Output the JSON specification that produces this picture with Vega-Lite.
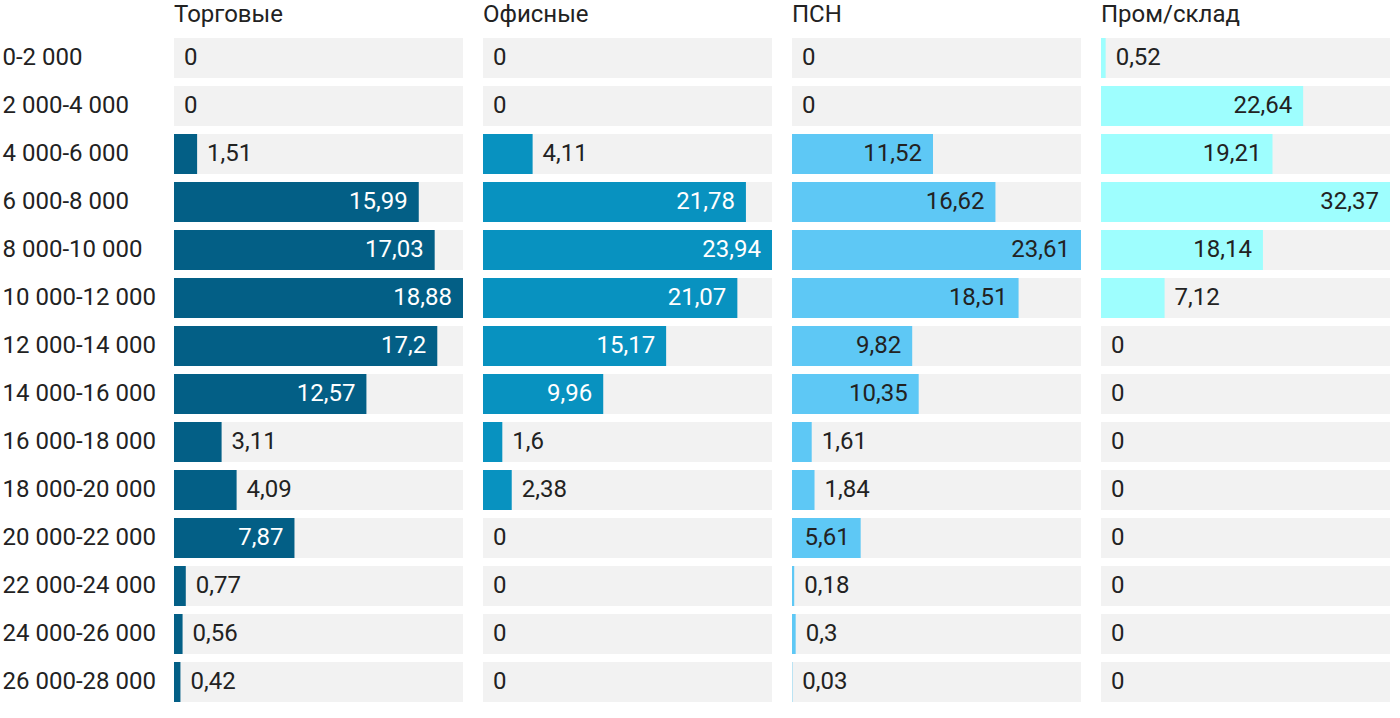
{
  "$schema": "https://vega.github.io/schema/vega-lite/v6.json",
  "padding": {"left": 2, "top": 3, "right": 0, "bottom": 0},
  "background": "white",
  "config": {
    "view": {"stroke": null},
    "font": "Roboto",
    "locale": {"number": {"decimal": ",", "thousands": " ", "grouping": [3], "currency": ["", ""]}}
  },
  "data": {"values": [
    {"r": "0-2 000", "cat": "Торговые", "v": 0},
    {"r": "2 000-4 000", "cat": "Торговые", "v": 0},
    {"r": "4 000-6 000", "cat": "Торговые", "v": 1.51},
    {"r": "6 000-8 000", "cat": "Торговые", "v": 15.99},
    {"r": "8 000-10 000", "cat": "Торговые", "v": 17.03},
    {"r": "10 000-12 000", "cat": "Торговые", "v": 18.88},
    {"r": "12 000-14 000", "cat": "Торговые", "v": 17.2},
    {"r": "14 000-16 000", "cat": "Торговые", "v": 12.57},
    {"r": "16 000-18 000", "cat": "Торговые", "v": 3.11},
    {"r": "18 000-20 000", "cat": "Торговые", "v": 4.09},
    {"r": "20 000-22 000", "cat": "Торговые", "v": 7.87},
    {"r": "22 000-24 000", "cat": "Торговые", "v": 0.77},
    {"r": "24 000-26 000", "cat": "Торговые", "v": 0.56},
    {"r": "26 000-28 000", "cat": "Торговые", "v": 0.42},
    {"r": "0-2 000", "cat": "Офисные", "v": 0},
    {"r": "2 000-4 000", "cat": "Офисные", "v": 0},
    {"r": "4 000-6 000", "cat": "Офисные", "v": 4.11},
    {"r": "6 000-8 000", "cat": "Офисные", "v": 21.78},
    {"r": "8 000-10 000", "cat": "Офисные", "v": 23.94},
    {"r": "10 000-12 000", "cat": "Офисные", "v": 21.07},
    {"r": "12 000-14 000", "cat": "Офисные", "v": 15.17},
    {"r": "14 000-16 000", "cat": "Офисные", "v": 9.96},
    {"r": "16 000-18 000", "cat": "Офисные", "v": 1.6},
    {"r": "18 000-20 000", "cat": "Офисные", "v": 2.38},
    {"r": "20 000-22 000", "cat": "Офисные", "v": 0},
    {"r": "22 000-24 000", "cat": "Офисные", "v": 0},
    {"r": "24 000-26 000", "cat": "Офисные", "v": 0},
    {"r": "26 000-28 000", "cat": "Офисные", "v": 0},
    {"r": "0-2 000", "cat": "ПСН", "v": 0},
    {"r": "2 000-4 000", "cat": "ПСН", "v": 0},
    {"r": "4 000-6 000", "cat": "ПСН", "v": 11.52},
    {"r": "6 000-8 000", "cat": "ПСН", "v": 16.62},
    {"r": "8 000-10 000", "cat": "ПСН", "v": 23.61},
    {"r": "10 000-12 000", "cat": "ПСН", "v": 18.51},
    {"r": "12 000-14 000", "cat": "ПСН", "v": 9.82},
    {"r": "14 000-16 000", "cat": "ПСН", "v": 10.35},
    {"r": "16 000-18 000", "cat": "ПСН", "v": 1.61},
    {"r": "18 000-20 000", "cat": "ПСН", "v": 1.84},
    {"r": "20 000-22 000", "cat": "ПСН", "v": 5.61},
    {"r": "22 000-24 000", "cat": "ПСН", "v": 0.18},
    {"r": "24 000-26 000", "cat": "ПСН", "v": 0.3},
    {"r": "26 000-28 000", "cat": "ПСН", "v": 0.03},
    {"r": "0-2 000", "cat": "Пром/склад", "v": 0.52},
    {"r": "2 000-4 000", "cat": "Пром/склад", "v": 22.64},
    {"r": "4 000-6 000", "cat": "Пром/склад", "v": 19.21},
    {"r": "6 000-8 000", "cat": "Пром/склад", "v": 32.37},
    {"r": "8 000-10 000", "cat": "Пром/склад", "v": 18.14},
    {"r": "10 000-12 000", "cat": "Пром/склад", "v": 7.12},
    {"r": "12 000-14 000", "cat": "Пром/склад", "v": 0},
    {"r": "14 000-16 000", "cat": "Пром/склад", "v": 0},
    {"r": "16 000-18 000", "cat": "Пром/склад", "v": 0},
    {"r": "18 000-20 000", "cat": "Пром/склад", "v": 0},
    {"r": "20 000-22 000", "cat": "Пром/склад", "v": 0},
    {"r": "22 000-24 000", "cat": "Пром/склад", "v": 0},
    {"r": "24 000-26 000", "cat": "Пром/склад", "v": 0},
    {"r": "26 000-28 000", "cat": "Пром/склад", "v": 0}
  ]},
  "transform": [
    {"joinaggregate": [{"op": "max", "field": "v", "as": "vmax"}], "groupby": ["cat"]}
  ],
  "facet": {
    "column": {
      "field": "cat",
      "type": "nominal",
      "sort": ["Торговые", "Офисные", "ПСН", "Пром/склад"],
      "title": null,
      "header": {"labelAnchor": "start", "labelFont": "Roboto", "labelFontSize": 24, "labelColor": "#222222", "labelPadding": 7}
    }
  },
  "spacing": 20,
  "resolve": {"scale": {"x": "independent"}},
  "spec": {
    "width": 289,
    "height": 672,
    "encoding": {
      "y": {
        "field": "r",
        "type": "nominal",
        "sort": null,
        "scale": {"paddingInner": 0.1667, "paddingOuter": 0.0833},
        "axis": {"title": null, "domain": false, "ticks": false, "tickSize": 0, "labelAlign": "left", "labelPadding": 172, "labelFont": "Roboto", "labelFontSize": 24, "labelColor": "#222222"}
      }
    },
    "layer": [
      {
        "mark": {"type": "bar", "color": "#f2f2f2"},
        "encoding": {
          "x": {"field": "vmax", "type": "quantitative", "axis": null, "scale": {"nice": false, "zero": true}}
        }
      },
      {
        "mark": {"type": "bar"},
        "encoding": {
          "x": {"field": "v", "type": "quantitative"},
          "color": {
            "field": "cat",
            "type": "nominal",
            "legend": null,
            "scale": {"domain": ["Торговые", "Офисные", "ПСН", "Пром/склад"], "range": ["#035f86", "#0892c0", "#5ec8f5", "#9efefe"]}
          }
        }
      },
      {
        "transform": [{"filter": "datum.v / datum.vmax > 0.23"}],
        "mark": {"type": "text", "align": "right", "baseline": "middle", "dx": -11, "font": "Roboto", "fontSize": 24},
        "encoding": {
          "x": {"field": "v", "type": "quantitative"},
          "text": {"field": "v", "type": "quantitative", "format": ".2~f"},
          "color": {"condition": {"test": "datum.cat === 'Торговые' || datum.cat === 'Офисные'", "value": "white"}, "value": "#222222"}
        }
      },
      {
        "transform": [{"filter": "datum.v / datum.vmax <= 0.23"}],
        "mark": {"type": "text", "align": "left", "baseline": "middle", "dx": 10, "font": "Roboto", "fontSize": 24, "color": "#222222"},
        "encoding": {
          "x": {"field": "v", "type": "quantitative"},
          "text": {"field": "v", "type": "quantitative", "format": ".2~f"}
        }
      }
    ]
  }
}
